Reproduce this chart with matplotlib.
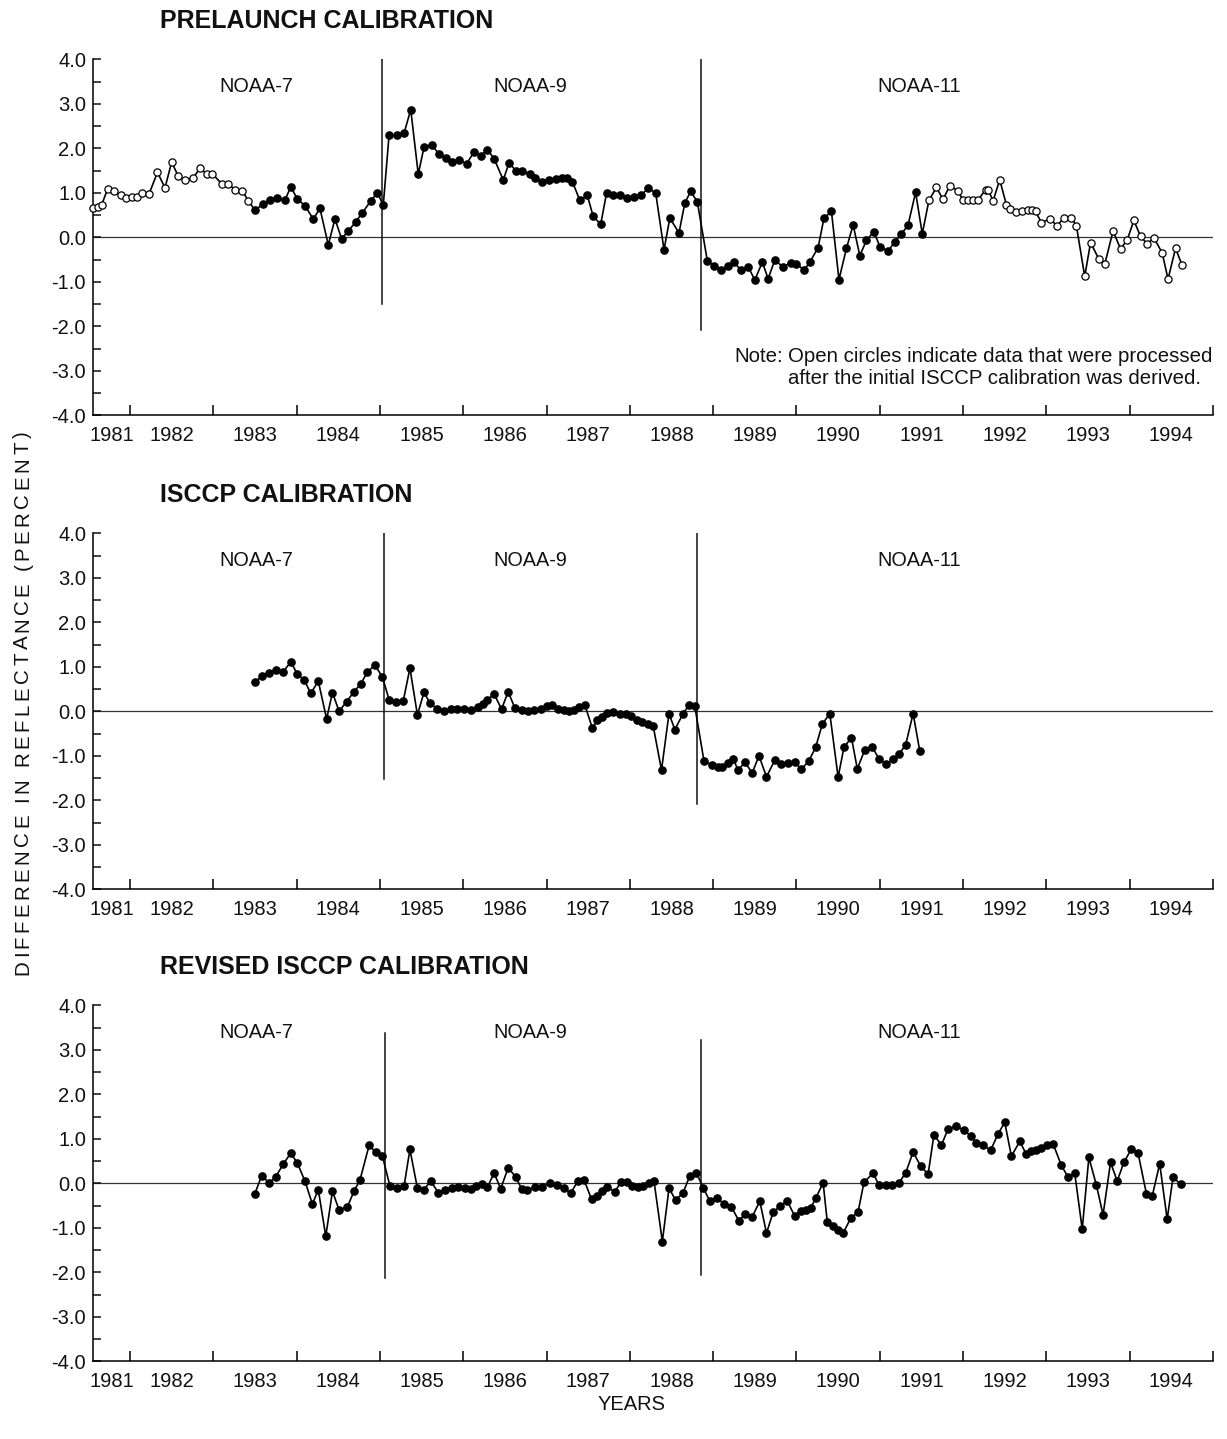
import numpy as np
import matplotlib.pyplot as plt
from matplotlib.font_manager import FontProperties, findfont
from matplotlib.ft2font import FT2Font

plt.rcParams['font.family'] = ['Liberation Sans', 'DejaVu Sans']
plt.rcParams['axes.unicode_minus'] = False

# ---- monthly differences in reflectance (percent), by decimal year ----
prelaunch_year = [
    1981.56, 1981.62, 1981.66, 1981.73, 1981.81, 1981.89, 1981.95, 1982.02, 1982.08, 1982.15,
    1982.23, 1982.33, 1982.42, 1982.50, 1982.58, 1982.66, 1982.76, 1982.84, 1982.92, 1982.99,
    1983.10, 1983.18, 1983.26, 1983.35, 1983.42, 1983.50, 1983.60, 1983.68, 1983.76, 1983.86,
    1983.93, 1984.01, 1984.10, 1984.20, 1984.28, 1984.38, 1984.46, 1984.54, 1984.62, 1984.71,
    1984.79, 1984.89, 1984.97, 1985.04, 1985.11, 1985.20, 1985.29, 1985.37, 1985.46, 1985.53,
    1985.62, 1985.71, 1985.79, 1985.87, 1985.95, 1986.04, 1986.13, 1986.21, 1986.29, 1986.37,
    1986.48, 1986.55, 1986.63, 1986.70, 1986.80, 1986.86, 1986.94, 1987.03, 1987.11, 1987.18,
    1987.25, 1987.31, 1987.40, 1987.49, 1987.56, 1987.65, 1987.72, 1987.80, 1987.88, 1987.97,
    1988.05, 1988.13, 1988.22, 1988.31, 1988.41, 1988.48, 1988.59, 1988.66, 1988.73, 1988.81,
    1988.93, 1989.01, 1989.10, 1989.18, 1989.25, 1989.33, 1989.42, 1989.50, 1989.59, 1989.66,
    1989.74, 1989.84, 1989.93, 1990.00, 1990.09, 1990.16, 1990.26, 1990.33, 1990.42, 1990.51,
    1990.60, 1990.68, 1990.76, 1990.84, 1990.93, 1991.00, 1991.10, 1991.18, 1991.26, 1991.34,
    1991.43, 1991.51, 1991.59, 1991.68, 1991.76, 1991.84, 1991.94, 1992.00, 1992.06, 1992.12,
    1992.18, 1992.27, 1992.30, 1992.36, 1992.44, 1992.52, 1992.56, 1992.64, 1992.71, 1992.78,
    1992.83, 1992.87, 1992.94, 1993.04, 1993.13, 1993.21, 1993.30, 1993.36, 1993.46, 1993.53,
    1993.63, 1993.70, 1993.80, 1993.89, 1993.97, 1994.05, 1994.13, 1994.21, 1994.29, 1994.39,
    1994.46, 1994.55, 1994.63,
]
prelaunch_refl = [
    0.65, 0.69, 0.73, 1.08, 1.03, 0.94, 0.89, 0.91, 0.91, 1.00,
    0.98, 1.46, 1.11, 1.69, 1.37, 1.28, 1.34, 1.55, 1.42, 1.43,
    1.20, 1.20, 1.07, 1.04, 0.82, 0.61, 0.75, 0.83, 0.88, 0.84,
    1.13, 0.86, 0.71, 0.41, 0.65, -0.17, 0.41, -0.03, 0.14, 0.35,
    0.55, 0.82, 1.00, 0.72, 2.30, 2.30, 2.34, 2.87, 1.42, 2.03,
    2.08, 1.87, 1.79, 1.69, 1.74, 1.65, 1.92, 1.83, 1.97, 1.77,
    1.29, 1.67, 1.50, 1.49, 1.43, 1.34, 1.25, 1.28, 1.31, 1.34,
    1.33, 1.25, 0.83, 0.94, 0.47, 0.29, 0.99, 0.94, 0.94, 0.88,
    0.91, 0.94, 1.10, 1.00, -0.28, 0.43, 0.10, 0.77, 1.03, 0.80,
    -0.53, -0.64, -0.74, -0.65, -0.55, -0.74, -0.66, -0.96, -0.56, -0.93,
    -0.51, -0.67, -0.57, -0.59, -0.74, -0.56, -0.23, 0.43, 0.58, -0.95,
    -0.25, 0.28, -0.41, -0.07, 0.13, -0.21, -0.31, -0.10, 0.07, 0.28,
    1.01, 0.08, 0.83, 1.12, 0.85, 1.16, 1.04, 0.83, 0.83, 0.83,
    0.84, 1.07, 1.07, 0.82, 1.29, 0.73, 0.64, 0.56, 0.59, 0.62,
    0.62, 0.58, 0.33, 0.41, 0.26, 0.44, 0.44, 0.26, -0.88, -0.12,
    -0.49, -0.61, 0.14, -0.26, -0.06, 0.38, 0.02, -0.15, -0.01, -0.35,
    -0.94, -0.25, -0.63,
]

isccp_year = [
    1983.50, 1983.59, 1983.67, 1983.75, 1983.84, 1983.93, 1984.01, 1984.09, 1984.17, 1984.26,
    1984.36, 1984.43, 1984.51, 1984.60, 1984.69, 1984.77, 1984.85, 1984.94, 1985.03, 1985.11,
    1985.19, 1985.28, 1985.36, 1985.45, 1985.53, 1985.60, 1985.69, 1985.77, 1985.85, 1985.93,
    1986.01, 1986.09, 1986.18, 1986.24, 1986.29, 1986.37, 1986.46, 1986.54, 1986.62, 1986.70,
    1986.78, 1986.85, 1986.93, 1987.01, 1987.07, 1987.14, 1987.21, 1987.27, 1987.33, 1987.39,
    1987.46, 1987.55, 1987.61, 1987.67, 1987.73, 1987.80, 1987.88, 1987.95, 1988.01, 1988.08,
    1988.15, 1988.22, 1988.28, 1988.38, 1988.47, 1988.54, 1988.64, 1988.71, 1988.78, 1988.89,
    1988.99, 1989.06, 1989.11, 1989.18, 1989.24, 1989.30, 1989.38, 1989.47, 1989.55, 1989.64,
    1989.74, 1989.82, 1989.90, 1989.98, 1990.06, 1990.15, 1990.23, 1990.31, 1990.40, 1990.50,
    1990.57, 1990.66, 1990.73, 1990.82, 1990.91, 1990.99, 1991.08, 1991.16, 1991.23, 1991.31,
    1991.40, 1991.48,
]
isccp_refl = [
    0.66, 0.80, 0.86, 0.92, 0.89, 1.11, 0.83, 0.71, 0.40, 0.68,
    -0.17, 0.42, 0.00, 0.22, 0.44, 0.62, 0.88, 1.04, 0.77, 0.26,
    0.21, 0.23, 0.97, -0.08, 0.43, 0.18, 0.06, 0.01, 0.05, 0.06,
    0.05, 0.03, 0.09, 0.17, 0.26, 0.39, 0.05, 0.44, 0.07, 0.02,
    0.01, 0.03, 0.06, 0.11, 0.14, 0.05, 0.03, 0.01, 0.03, 0.10,
    0.14, -0.38, -0.20, -0.12, -0.03, -0.01, -0.05, -0.06, -0.11, -0.20,
    -0.24, -0.29, -0.33, -1.32, -0.05, -0.41, -0.05, 0.14, 0.11, -1.12,
    -1.21, -1.26, -1.25, -1.17, -1.07, -1.32, -1.15, -1.38, -1.00, -1.47,
    -1.10, -1.19, -1.17, -1.15, -1.30, -1.11, -0.81, -0.29, -0.05, -1.48,
    -0.81, -0.59, -1.29, -0.87, -0.80, -1.07, -1.19, -1.08, -0.96, -0.76,
    -0.05, -0.89,
]

revised_year = [
    1983.50, 1983.58, 1983.67, 1983.75, 1983.84, 1983.93, 1984.01, 1984.10, 1984.19, 1984.26,
    1984.35, 1984.43, 1984.51, 1984.61, 1984.69, 1984.76, 1984.87, 1984.95, 1985.03, 1985.12,
    1985.20, 1985.29, 1985.36, 1985.45, 1985.53, 1985.61, 1985.70, 1985.78, 1985.86, 1985.94,
    1986.02, 1986.09, 1986.15, 1986.22, 1986.29, 1986.37, 1986.45, 1986.54, 1986.63, 1986.70,
    1986.77, 1986.86, 1986.94, 1987.04, 1987.13, 1987.21, 1987.29, 1987.38, 1987.45, 1987.54,
    1987.60, 1987.67, 1987.73, 1987.82, 1987.89, 1987.96, 1988.03, 1988.10, 1988.16, 1988.23,
    1988.29, 1988.39, 1988.47, 1988.55, 1988.64, 1988.72, 1988.80, 1988.88, 1988.96, 1989.05,
    1989.13, 1989.22, 1989.31, 1989.38, 1989.47, 1989.56, 1989.64, 1989.72, 1989.80, 1989.89,
    1989.98, 1990.05, 1990.12, 1990.17, 1990.23, 1990.32, 1990.37, 1990.44, 1990.50, 1990.56,
    1990.65, 1990.74, 1990.81, 1990.92, 1990.99, 1991.07, 1991.15, 1991.23, 1991.31, 1991.40,
    1991.49, 1991.58, 1991.65, 1991.74, 1991.82, 1991.92, 1992.01, 1992.09, 1992.16, 1992.24,
    1992.33, 1992.42, 1992.50, 1992.58, 1992.68, 1992.76, 1992.82, 1992.88, 1992.94, 1993.01,
    1993.08, 1993.18, 1993.26, 1993.34, 1993.43, 1993.51, 1993.60, 1993.68, 1993.77, 1993.85,
    1993.93, 1994.02, 1994.10, 1994.20, 1994.27, 1994.36, 1994.45, 1994.52, 1994.61,
]
revised_refl = [
    -0.23, 0.17, 0.01, 0.15, 0.43, 0.68, 0.45, 0.05, -0.47, -0.14,
    -1.19, -0.18, -0.60, -0.53, -0.17, 0.07, 0.85, 0.70, 0.61, -0.06,
    -0.10, -0.06, 0.76, -0.11, -0.14, 0.05, -0.21, -0.15, -0.10, -0.08,
    -0.10, -0.12, -0.06, -0.02, -0.09, 0.23, -0.12, 0.35, 0.14, -0.12,
    -0.14, -0.09, -0.08, 0.00, -0.04, -0.11, -0.22, 0.06, 0.08, -0.36,
    -0.29, -0.17, -0.09, -0.19, 0.02, 0.02, -0.07, -0.08, -0.05, 0.00,
    0.05, -1.31, -0.11, -0.38, -0.21, 0.17, 0.23, -0.10, -0.40, -0.32,
    -0.47, -0.53, -0.85, -0.69, -0.75, -0.40, -1.12, -0.65, -0.52, -0.40,
    -0.74, -0.63, -0.60, -0.56, -0.34, 0.01, -0.87, -0.97, -1.05, -1.12,
    -0.79, -0.64, 0.02, 0.23, -0.04, -0.03, -0.03, 0.01, 0.23, 0.70,
    0.39, 0.20, 1.09, 0.86, 1.22, 1.28, 1.19, 1.07, 0.91, 0.86,
    0.74, 1.11, 1.37, 0.61, 0.94, 0.65, 0.72, 0.75, 0.80, 0.87,
    0.89, 0.40, 0.14, 0.23, -1.03, 0.58, -0.04, -0.71, 0.47, 0.05,
    0.47, 0.77, 0.68, -0.23, -0.29, 0.44, -0.81, 0.14, -0.02,
]

satellites = ['NOAA-7', 'NOAA-9', 'NOAA-11']
satellite_label_x = [1983.52, 1986.81, 1991.47]
tick_years = list(range(1981, 1995))

XMIN, XMAX = 1981.556, 1995.0


def tracked_vertical_label(fig, text, x_px, yc_px, size, tracking_px):
    """Write text bottom-to-top one glyph at a time with extra letter spacing."""
    fp = FontProperties(family='Liberation Sans', size=size)
    face = FT2Font(findfont(fp), hinting_factor=1)
    face.set_size(size, fig.dpi)
    advances = [face.load_char(ord(ch)).linearHoriAdvance / 65536.0 for ch in text]
    total = sum(advances) + tracking_px * (len(text) - 1)
    W, H = fig.bbox.width, fig.bbox.height
    y = yc_px - total / 2
    for ch, adv in zip(text, advances):
        fig.text(x_px / W, y / H, ch, rotation=90, rotation_mode='anchor',
                 ha='left', va='baseline', fontproperties=fp, color='#111111')
        y += adv + tracking_px


fig = plt.figure(figsize=(12.27, 14.39), dpi=100)

panels = [
    dict(title='PRELAUNCH CALIBRATION', x=prelaunch_year, y=prelaunch_refl, bottom=0.7114,
         switches=[(1985.03, -1.50, 4.0), (1988.86, -2.08, 4.0)]),
    dict(title='ISCCP CALIBRATION', x=isccp_year, y=isccp_refl, bottom=0.3820,
         switches=[(1985.05, -1.52, 4.0), (1988.81, -2.08, 4.0)]),
    dict(title='REVISED ISCCP CALIBRATION', x=revised_year, y=revised_refl, bottom=0.0540,
         switches=[(1985.06, -2.13, 3.38), (1988.85, -2.07, 3.22)]),
]

# open circles: prelaunch months outside the span of the ISCCP calibration
isccp_lo, isccp_hi = min(isccp_year) - 0.03, max(isccp_year) + 0.03

label_centers = [(max(y, XMIN) + min(y + 1, XMAX)) / 2 for y in tick_years]

for i, p in enumerate(panels):
    ax = fig.add_axes([0.0758, p['bottom'], 0.9128, 0.2474])
    ax.set_xlim(XMIN, XMAX)
    ax.set_ylim(-4, 4)
    for side in ('top', 'right'):
        ax.spines[side].set_visible(False)
    for side in ('left', 'bottom'):
        ax.spines[side].set_linewidth(1.1)

    ax.set_yticks(np.arange(-4, 4.01, 1.0))
    ax.set_yticklabels([f'{v:.1f}' for v in np.arange(-4, 4.01, 1.0)])
    ax.set_yticks(np.arange(-3.5, 4.0, 1.0), minor=True)
    ax.tick_params(axis='y', which='both', direction='in', length=5.5, width=1.1,
                   labelsize=14.5, pad=5, colors='#111111')

    ax.set_xticks(range(1982, 1996))
    ax.set_xticks(label_centers, minor=True)
    ax.set_xticklabels([str(y) for y in tick_years], minor=True)
    ax.tick_params(axis='x', which='major', direction='in', length=7, width=1.1,
                   labelbottom=False)
    ax.tick_params(axis='x', which='minor', length=0, labelsize=14.5, pad=8,
                   colors='#111111')

    ax.axhline(0, color='#333333', lw=0.9, zorder=1)
    for xs, y0, y1 in p['switches']:
        ax.plot([xs, xs], [y0, y1], color='#111111', lw=1.1, zorder=1)

    for name, lx in zip(satellites, satellite_label_x):
        ax.text(lx, 3.38, name, ha='center', va='center', fontsize=14.3, color='#111111')

    ax.text(0.06, 1.108, p['title'], transform=ax.transAxes, fontsize=18,
            fontweight='bold', va='center', ha='left', color='#111111')

    xs = np.array(p['x'])
    ys = np.array(p['y'])
    ax.plot(xs, ys, color='black', lw=1.2, zorder=2)
    if i == 0:
        hollow = (xs < isccp_lo) | (xs > isccp_hi)
    else:
        hollow = np.zeros(len(xs), dtype=bool)
    ax.plot(xs[~hollow], ys[~hollow], 'o', color='black', ms=5.2, zorder=3,
            clip_on=False)
    ax.plot(xs[hollow], ys[hollow], 'o', mfc='white', mec='black', mew=0.9,
            ms=5.2, zorder=3, clip_on=False)

    if i == 0:
        note = ax.text(1989.25, -2.67, 'Note:', fontsize=14.7, va='center', ha='left',
                       color='#111111')
        ax.annotate('Open circles indicate data that were processed\n'
                    'after the initial ISCCP calibration was derived.',
                    xy=(1, 1), xycoords=note, xytext=(4, 0), textcoords='offset points',
                    ha='left', va='top', fontsize=14.7, linespacing=1.2, color='#111111')

tracked_vertical_label(fig, 'DIFFERENCE IN REFLECTANCE (PERCENT)',
                       x_px=28.3, yc_px=1439 - 703, size=14.8, tracking_px=3.0)
fig.text(632 / 1227, 1 - 1405 / 1439, 'YEARS', ha='center', va='center',
         fontsize=14.5, color='#111111')

fig.savefig('out.png', dpi=100)
